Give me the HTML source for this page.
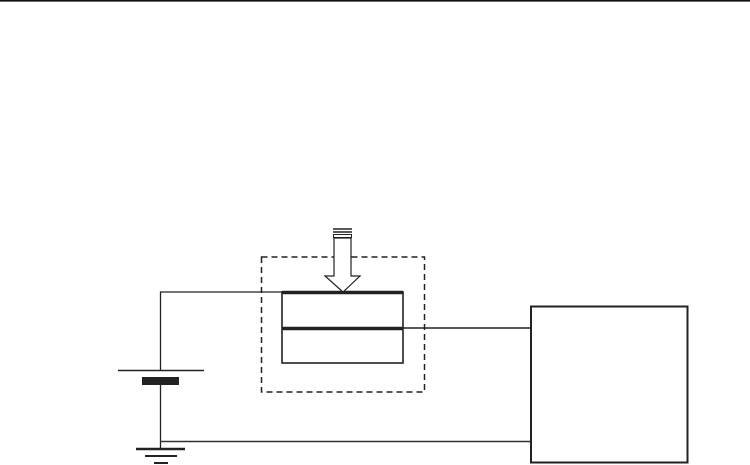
<!DOCTYPE html>
<html><head><style>html,body{margin:0;padding:0;background:#fff;}svg{display:block}</style></head>
<body>
<svg width="750" height="465" viewBox="0 0 750 465" xmlns="http://www.w3.org/2000/svg">
<line x1="0" y1="0.8" x2="750" y2="0.8" stroke="#111" stroke-width="1.6"/>
<!-- dashed box -->
<rect x="261.5" y="257" width="163" height="135" fill="none" stroke="#222" stroke-width="1.5" stroke-dasharray="6,4"/>
<!-- plates -->
<rect x="282" y="292" width="121" height="71" fill="#fff" stroke="#222" stroke-width="1.6"/>
<line x1="282" y1="292.5" x2="403" y2="292.5" stroke="#222" stroke-width="3.5"/>
<line x1="282" y1="328.5" x2="403" y2="328.5" stroke="#222" stroke-width="3.5"/>
<!-- arrow -->
<line x1="333" y1="229" x2="352" y2="229" stroke="#222" stroke-width="1.6"/>
<line x1="333" y1="232" x2="352" y2="232" stroke="#222" stroke-width="1.6"/>
<rect x="333.5" y="234.5" width="18" height="3" fill="none" stroke="#222" stroke-width="1"/>
<polygon points="334,238 351,238 351,276 360,276 343,292 325,276 334,276" fill="#fff" stroke="#222" stroke-width="1.2"/>
<!-- wires -->
<polyline points="282,292 160.5,292 160.5,370" fill="none" stroke="#222" stroke-width="1.3"/>
<line x1="118" y1="370.5" x2="204" y2="370.5" stroke="#222" stroke-width="1.6"/>
<rect x="142" y="377" width="37" height="8" fill="#222"/>
<line x1="160.5" y1="385" x2="160.5" y2="449" stroke="#222" stroke-width="1.3"/>
<line x1="160" y1="441.5" x2="531" y2="441.5" stroke="#333" stroke-width="1.5"/>
<line x1="403" y1="328" x2="531" y2="328" stroke="#222" stroke-width="1.5"/>
<!-- ground -->
<line x1="136" y1="449" x2="185" y2="449" stroke="#222" stroke-width="2.5"/>
<line x1="145" y1="456" x2="177" y2="456" stroke="#222" stroke-width="2"/>
<line x1="154" y1="463" x2="168" y2="463" stroke="#222" stroke-width="2"/>
<!-- right box -->
<rect x="531" y="306.5" width="156.5" height="156" fill="none" stroke="#222" stroke-width="2"/>
</svg>
</body></html>
